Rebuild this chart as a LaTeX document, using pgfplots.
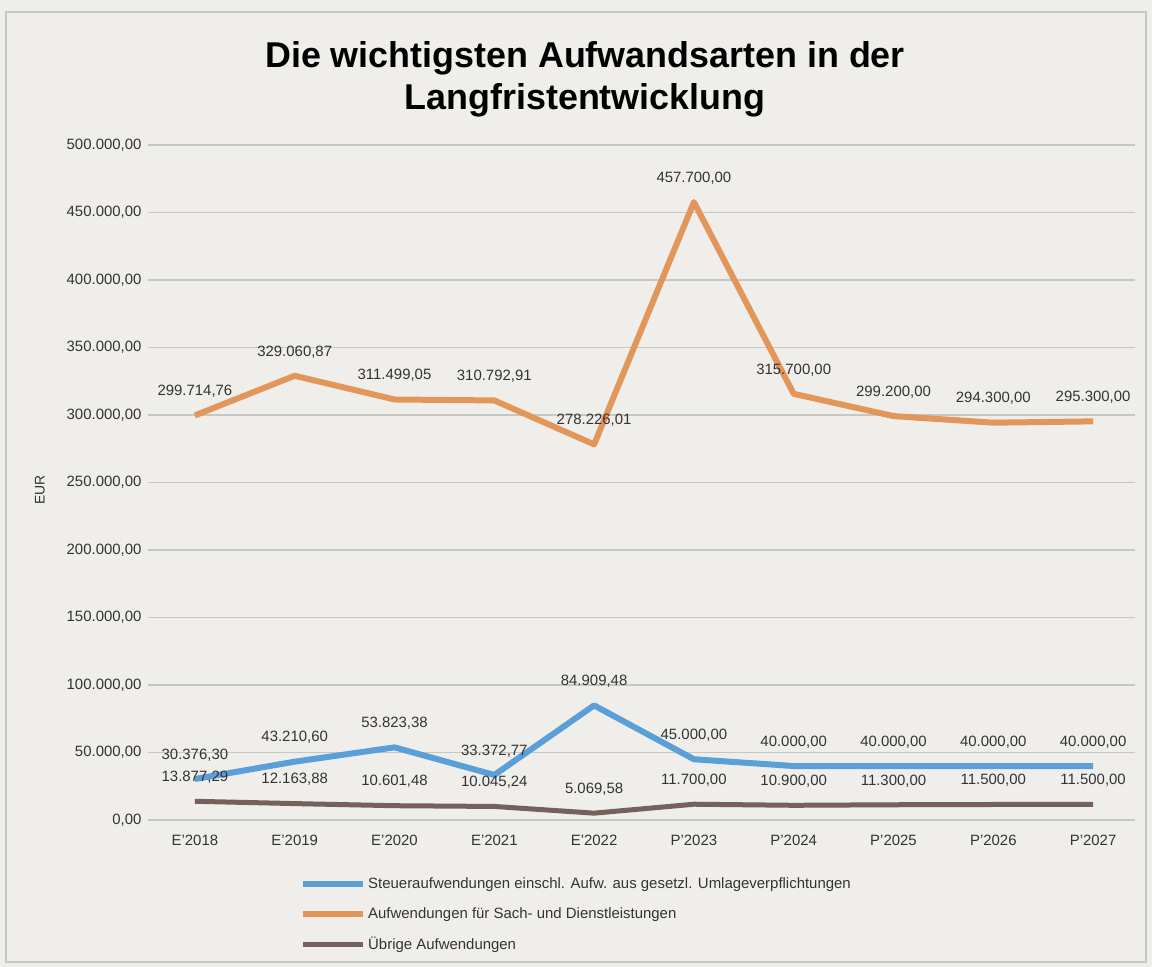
\documentclass[border=0pt]{standalone}
\usepackage{pgfplots}
\pgfplotsset{compat=1.18}
\usepackage{pgfplotstable}
\usepackage{fontspec}
\setmainfont{Liberation Sans}

\definecolor{cblue}{HTML}{5B9FD8}
\definecolor{corange}{HTML}{E3965A}
\definecolor{cbrown}{HTML}{75605E}
\definecolor{cgrid}{HTML}{C6C6C3}
\definecolor{paper}{HTML}{EFEEEA}
\definecolor{ctext}{HTML}{333333}

\pgfplotstableread{
x y lab
0 30376.30 30.376,30
1 43210.60 43.210,60
2 53823.38 53.823,38
3 33372.77 33.372,77
4 84909.48 84.909,48
5 45000.00 45.000,00
6 40000.00 40.000,00
7 40000.00 40.000,00
8 40000.00 40.000,00
9 40000.00 40.000,00
}\steuer

\pgfplotstableread{
x y lab
0 299714.76 299.714,76
1 329060.87 329.060,87
2 311499.05 311.499,05
3 310792.91 310.792,91
4 278226.01 278.226,01
5 457700.00 457.700,00
6 315700.00 315.700,00
7 299200.00 299.200,00
8 294300.00 294.300,00
9 295300.00 295.300,00
}\sach

\pgfplotstableread{
x y lab
0 13877.29 13.877,29
1 12163.88 12.163,88
2 10601.48 10.601,48
3 10045.24 10.045,24
4 5069.58 5.069,58
5 11700.00 11.700,00
6 10900.00 10.900,00
7 11300.00 11.300,00
8 11500.00 11.500,00
9 11500.00 11.500,00
}\uebrige

\begin{document}
\begin{tikzpicture}[x=1bp,y=1bp]
\fill[paper] (0,0) rectangle (1152,-967);
\draw[cgrid, line width=1.5bp] (6,-12) rectangle (1146,-962);
\node[font=\fontsize{36}{42}\selectfont\bfseries, align=center, text=black] at (585,-79) {Die wichtigsten Aufwandsarten in der\\Langfristentwicklung};
\node[rotate=90, font=\fontsize{14}{16}\selectfont, text=ctext] at (40,-490) {EUR};
\begin{axis}[
  at={(148bp,-820bp)}, anchor=south west,
  width=987bp, height=675bp, scale only axis,
  xmin=-0.47, xmax=9.42,
  ymin=0, ymax=500000,
  xtick={0,...,9},
  xticklabels={E'2018,E'2019,E'2020,E'2021,E'2022,P'2023,P'2024,P'2025,P'2026,P'2027},
  ytick={0,50000,...,500000},
  scaled y ticks=false,
  /pgf/number format/fixed,
  /pgf/number format/fixed zerofill,
  /pgf/number format/precision=2,
  /pgf/number format/1000 sep={.},
  /pgf/number format/use comma,
  /pgf/number format/assume math mode=true,
  ticklabel style={font=\fontsize{15}{18}\selectfont, text=ctext},
  xticklabel style={yshift=-12bp},
  yticklabel style={xshift=-3bp},
  major tick length=0pt,
  axis line style={draw=none},
  ymajorgrids, grid style={cgrid, line width=1.5bp},
  clip=false,
  nodes near coords,
  point meta=explicit symbolic,
  every node near coord/.append style={anchor=center, yshift=24bp, font=\fontsize{15}{18}\selectfont, text=ctext},
  legend style={at={(axis description cs:0.154,-0.082)}, anchor=north west, draw=none, fill=none,
    font=\fontsize{15}{18}\selectfont, text=ctext, row sep=13.5bp, inner sep=0pt},
  legend cell align=left,
  legend image code/.code={\draw[#1] (0bp,0bp) -- (60bp,0bp);},
]
\addplot[cblue, line width=6bp, line join=round] table[x=x, y=y, meta=lab] {\steuer};
\addlegendentry{Steueraufwendungen einschl. Aufw. aus gesetzl. Umlageverpflichtungen}
\addplot[corange, line width=6bp, line join=round] table[x=x, y=y, meta=lab] {\sach};
\addlegendentry{Aufwendungen für Sach- und Dienstleistungen}
\addplot[cbrown, line width=5bp, line join=round] table[x=x, y=y, meta=lab] {\uebrige};
\addlegendentry{Übrige Aufwendungen}
\end{axis}
\end{tikzpicture}
\end{document}
